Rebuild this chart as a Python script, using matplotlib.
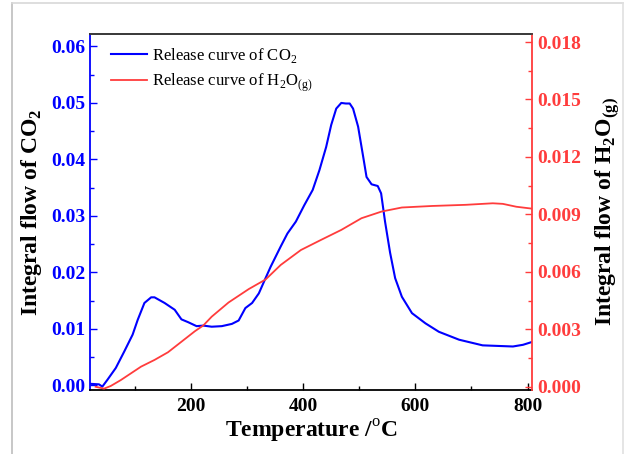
import matplotlib
matplotlib.use('Agg')
import matplotlib.pyplot as plt
from matplotlib.lines import Line2D
from matplotlib.ticker import MultipleLocator

plt.rcParams['font.family'] = ['Liberation Serif', 'DejaVu Serif']
plt.rcParams['mathtext.fontset'] = 'custom'
plt.rcParams['mathtext.rm'] = 'Liberation Serif'
plt.rcParams['mathtext.bf'] = 'Liberation Serif:bold'

# CO2 release curve (left axis)
co2_t = [20, 36, 42, 51, 66, 81, 96, 105, 117, 129, 135, 153, 171, 183, 195, 210,
         222, 237, 255, 273, 285, 297, 309, 321, 333, 342, 360, 372, 387, 402, 417,
         429, 441, 450, 459, 468, 476, 483, 489, 498, 507, 513, 522, 533, 539, 546,
         555, 564, 576, 594, 618, 642, 678, 720, 774, 792, 808]
co2_v = [0.0003, 0.0002, -0.0002, 0.0010, 0.0031, 0.0060, 0.0090, 0.0116, 0.0146,
         0.0156, 0.0156, 0.0146, 0.0134, 0.0117, 0.0112, 0.0105, 0.0106, 0.0104,
         0.0105, 0.0109, 0.0115, 0.0137, 0.0146, 0.0163, 0.0190, 0.0210, 0.0246,
         0.0269, 0.0290, 0.0319, 0.0346, 0.0381, 0.0422, 0.0461, 0.0490, 0.0500,
         0.0499, 0.0499, 0.0490, 0.0458, 0.0405, 0.0369, 0.0356, 0.0353, 0.0340,
         0.0290, 0.0235, 0.0190, 0.0157, 0.0128, 0.0110, 0.0095, 0.0081, 0.0071,
         0.0069, 0.0072, 0.0077]

# H2O release curve (right axis)
h2o_t = [30, 45, 57, 75, 93, 111, 135, 159, 183, 207, 222, 237, 267, 303, 333,
         360, 396, 432, 468, 504, 540, 576, 630, 690, 738, 756, 780, 808]
h2o_v = [0.0000, -0.0001, 0.00004, 0.00035, 0.0007, 0.00105, 0.0014, 0.0018,
         0.00235, 0.0029, 0.0032, 0.00366, 0.0044, 0.0051, 0.0056, 0.00636,
         0.00714, 0.00767, 0.00819, 0.0088, 0.00915, 0.00936, 0.00944, 0.0095,
         0.00958, 0.00955, 0.0094, 0.0093]

blue = '#0000ff'
red = '#ff3c3c'

fig = plt.figure(figsize=(6.24, 4.54), dpi=100)
ax = fig.add_axes([90/624, 1 - 390/454, 442/624, 356/454])
ax2 = ax.twinx()

l1, = ax.plot(co2_t, co2_v, color=blue, lw=1.5, label='Release curve of CO$_2$')
l2, = ax2.plot(h2o_t, h2o_v, color=red, lw=1.3, label='Release curve of H$_2$O$_{\\rm (g)}$')

ax.set_xlim(20, 808)
ax.set_ylim(-0.0008, 0.0622)
ax2.set_ylim(-0.00017, 0.01842)

ax.xaxis.set_major_locator(MultipleLocator(200))
ax.xaxis.set_minor_locator(MultipleLocator(100))
ax.yaxis.set_major_locator(MultipleLocator(0.01))
ax.yaxis.set_minor_locator(MultipleLocator(0.005))
ax2.yaxis.set_major_locator(MultipleLocator(0.003))
ax2.yaxis.set_minor_locator(MultipleLocator(0.0015))
ax.yaxis.set_major_formatter(plt.FormatStrFormatter('%.2f'))
ax2.yaxis.set_major_formatter(plt.FormatStrFormatter('%.3f'))

ax.tick_params(axis='x', which='both', direction='in', top=False, labelsize=14, pad=6)
ax.tick_params(axis='y', which='both', direction='in', colors=blue, labelsize=14)
ax2.tick_params(axis='y', which='both', direction='in', colors=red, labelsize=14)
for a in (ax, ax2):
    a.tick_params(which='major', length=5, width=1)
    a.tick_params(which='minor', length=3, width=1)
for lab in ax.get_xticklabels() + ax.get_yticklabels() + ax2.get_yticklabels():
    lab.set_fontweight('bold')

ax.spines['left'].set_color(blue)
ax2.spines['left'].set_visible(False)
ax2.spines['right'].set_color(red)
ax.spines['right'].set_visible(False)
ax2.spines['top'].set_color('#404040')
ax2.spines['bottom'].set_visible(False)
for s in ax.spines.values():
    s.set_linewidth(1.3)
for s in ax2.spines.values():
    s.set_linewidth(1.3)

ax.set_xlabel('Temperature /$^{\\rm o}$C', fontsize=17, fontweight='bold', labelpad=2)
ax.set_ylabel('Integral flow of CO$_\\mathbf{2}$', fontsize=17, fontweight='bold', labelpad=5)
ax2.set_ylabel('Integral flow of H$_\\mathbf{2}$O$_\\mathbf{(g)}$', fontsize=17,
               fontweight='bold', labelpad=9)

ax.legend(handles=[l1, l2], loc='upper left', bbox_to_anchor=(0.032, 0.986),
          frameon=False, fontsize=12, handlelength=2.2, handletextpad=0.3,
          borderaxespad=0, labelspacing=0.4)

# light frame around the figure
fig.add_artist(Line2D([11.5/624, 11.5/624], [0, 1 - 2.5/454], color='#bdbdbd', lw=1.2))
fig.add_artist(Line2D([11.5/624, 622.5/624], [1 - 2.5/454, 1 - 2.5/454], color='#d8d8d8', lw=1.2))
fig.add_artist(Line2D([622.5/624, 622.5/624], [0, 1 - 2.5/454], color='#e0e0e0', lw=1.2))

fig.savefig('out.png', dpi=100)
